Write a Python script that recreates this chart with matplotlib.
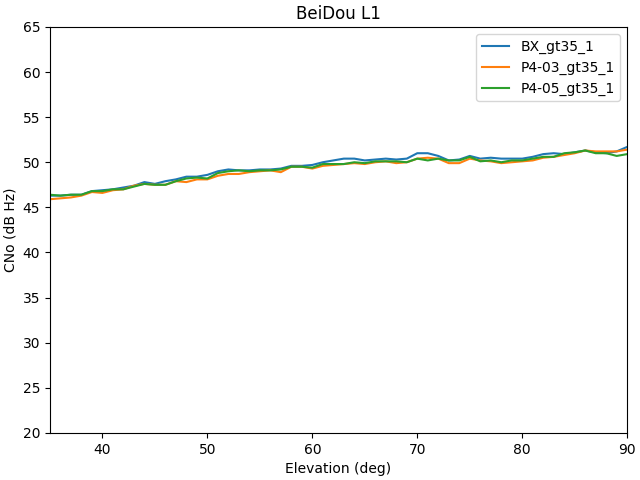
import numpy as np
import matplotlib
matplotlib.use("Agg")
import matplotlib.pyplot as plt

# Elevation bins (deg)
elevation = list(range(35, 91))

bx_gt35 = [46.3, 46.3, 46.4, 46.4, 46.8, 46.9, 47.0, 47.2, 47.4, 47.8,
           47.6, 47.9, 48.1, 48.4, 48.4, 48.6, 49.0, 49.2, 49.1, 49.1,
           49.2, 49.2, 49.3, 49.6, 49.6, 49.7, 50.0, 50.2, 50.4, 50.4,
           50.2, 50.3, 50.4, 50.3, 50.4, 51.0, 51.0, 50.7, 50.2, 50.3,
           50.7, 50.4, 50.5, 50.4, 50.4, 50.4, 50.6, 50.9, 51.0, 50.9,
           51.1, 51.3, 51.1, 51.0, 51.2, 51.7]

p403_gt35 = [45.9, 46.0, 46.1, 46.3, 46.7, 46.6, 46.9, 47.0, 47.4, 47.6,
             47.5, 47.5, 47.9, 47.8, 48.1, 48.1, 48.5, 48.7, 48.7, 48.9,
             49.0, 49.1, 48.9, 49.5, 49.5, 49.3, 49.6, 49.7, 49.8, 49.9,
             49.8, 50.0, 50.1, 49.9, 50.0, 50.4, 50.5, 50.4, 49.9, 49.9,
             50.4, 50.2, 50.1, 49.9, 50.0, 50.1, 50.2, 50.5, 50.6, 50.8,
             51.0, 51.3, 51.2, 51.2, 51.2, 51.4]

p405_gt35 = [46.4, 46.3, 46.4, 46.4, 46.8, 46.8, 47.0, 47.0, 47.3, 47.6,
             47.5, 47.5, 47.9, 48.2, 48.3, 48.2, 48.8, 49.0, 49.1, 49.0,
             49.1, 49.1, 49.2, 49.5, 49.5, 49.4, 49.8, 49.8, 49.8, 50.0,
             49.9, 50.1, 50.1, 50.1, 50.0, 50.4, 50.2, 50.4, 50.2, 50.2,
             50.6, 50.1, 50.2, 50.0, 50.2, 50.2, 50.4, 50.6, 50.6, 51.0,
             51.1, 51.3, 51.0, 51.0, 50.7, 50.9]

fig, ax = plt.subplots(figsize=(6.4, 4.8), dpi=100)
ax.plot(elevation, bx_gt35, label='BX_gt35_1')
ax.plot(elevation, p403_gt35, label='P4-03_gt35_1')
ax.plot(elevation, p405_gt35, label='P4-05_gt35_1')

ax.set_xlim(35, 90)
ax.set_ylim(20, 65)
ax.set_xlabel('Elevation (deg)')
ax.set_ylabel('CNo (dB Hz)')
ax.set_title('BeiDou L1')
ax.legend(loc='upper right')
fig.subplots_adjust(left=0.078, right=0.98, top=0.944, bottom=0.098)
plt.savefig('out.png', dpi=100)
